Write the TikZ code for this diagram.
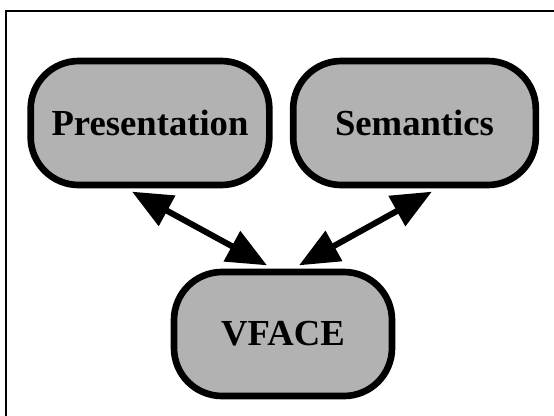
\documentclass[tikz,border=0pt]{standalone}
\usepackage{fontspec}
\setmainfont{Liberation Serif}
\usetikzlibrary{arrows.meta}

\tikzset{
  block/.style={draw=black, fill=black!30, line width=5pt, rounded corners=36pt,
    minimum height=93pt, inner sep=0pt, font=\fontsize{27.5}{30}\selectfont\bfseries},
  link/.style={line width=4.5pt,
    {Triangle[length=30pt,width=25pt]}-{Triangle[length=30pt,width=25pt]}}
}

\begin{document}
\begin{tikzpicture}[x=0.75pt, y=-0.75pt]

            \useasboundingbox (0,0) rectangle (554,415);
            \clip (0,0) rectangle (554,415);
            \draw[line width=1.5pt] (6,11) rectangle (580,440);

            \node[block, minimum width=179pt] (pres) at (150,123) {Presentation};
            \node[block, minimum width=182pt] (sem) at (414.5,123) {Semantics};
            \node[block, minimum width=163.5pt] (vface) at (283,334) {VFACE};

            \draw[link] ([shift={(-13.5pt,-2.5pt)}]pres.south) -- ([shift={(-12pt,2.5pt)}]vface.north);
            \draw[link] ([shift={(13pt,-2.5pt)}]sem.south) -- ([shift={(12pt,2.5pt)}]vface.north);

\end{tikzpicture}
\end{document}
